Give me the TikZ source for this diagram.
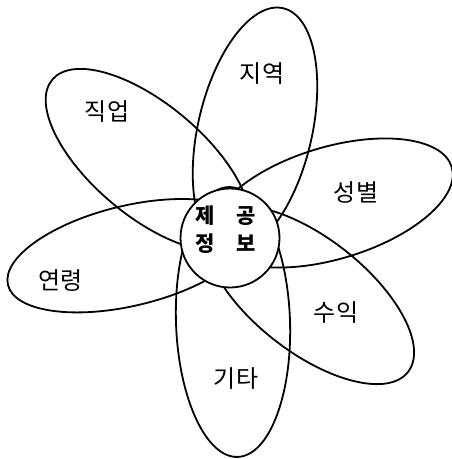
\documentclass[tikz,border=0pt]{standalone}
\usepackage{fontspec}
\newfontfamily\kr{Noto Sans CJK KR}
\begin{document}
\begin{tikzpicture}[x=1pt,y=1pt,
  petal/.style={draw=black,line width=1.8pt},
  lab/.style={font=\kr\fontsize{24}{27}\selectfont,inner sep=0pt},
  hub/.style={draw=black,fill=white,line width=1.8pt,circle,minimum size=99pt,inner sep=0pt}]
\useasboundingbox (0,0) rectangle (452,-459);
% petals
\draw[petal,rotate around={77:(255,-130)}] (255,-130) ellipse [x radius=125,y radius=57];
\draw[petal,rotate around={140:(148,-160)}] (148,-160) ellipse [x radius=125,y radius=56];
\draw[petal,rotate around={16.7:(332,-203)}] (332,-203) ellipse [x radius=125,y radius=56];
\draw[petal,rotate around={13.5:(129.5,-255.7)}] (129.5,-255.7) ellipse [x radius=125,y radius=50];
\draw[petal,rotate around={-38:(309.5,-295)}] (309.5,-295) ellipse [x radius=125,y radius=57];
\draw[petal,rotate around={-88:(233,-322)}] (233,-322) ellipse [x radius=135,y radius=57];
% hub
\node[hub] (hub) at (230,-238) {};
\node[font=\kr\bfseries\fontsize{21}{28}\selectfont,align=center,inner sep=0pt] (hubtext) at (226,-230) {제\hspace{22pt}공\\정\hspace{22pt}보};
% labels
\node[lab] (jiyeok) at (262,-74) {지역};
\node[lab] (jigeop) at (107,-112) {직업};
\node[lab] (seongbyeol) at (356,-192) {성별};
\node[lab] (yeollyeong) at (61,-281) {연령};
\node[lab] (suik) at (336,-313) {수익};
\node[lab] (gita) at (236,-379) {기타};
\end{tikzpicture}
\end{document}
